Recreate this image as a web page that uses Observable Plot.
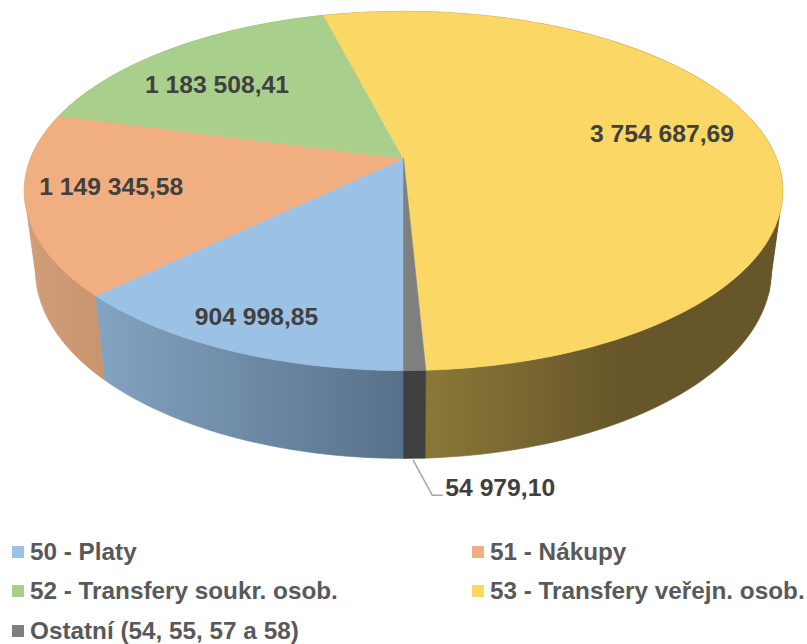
<!DOCTYPE html>
<html>
<head>
<meta charset="utf-8">
<script src="https://cdn.jsdelivr.net/npm/d3@7"></script>
<script src="https://cdn.jsdelivr.net/npm/@observablehq/plot@0.6"></script>
<style>
html,body{margin:0;padding:0;background:#fff;}
svg{display:block;}
#legend{display:grid;grid-template-columns:460px 335px;grid-auto-rows:39.5px;padding-left:12px;width:807px;box-sizing:border-box;
 font:bold 24.3px "Liberation Sans",Arial,sans-serif;color:#595959;margin-top:2px;}
#legend div{display:flex;align-items:center;white-space:nowrap;height:39.5px;}
#legend i{display:inline-block;width:12px;height:12px;margin-right:6px;flex:none;}
</style>
</head>
<body>
<div id="chart"></div>
<div id="legend"></div>
<script>
const categories = ["50 - Platy","51 - Nákupy","52 - Transfery soukr. osob.","53 - Transfery veřejn. osob.","Ostatní (54, 55, 57 a 58)"];
const values = [904998.85,1149345.58,1183508.41,3754687.69,54979.10];
const valueLabels = ["904 998,85","1 149 345,58","1 183 508,41","3 754 687,69","54 979,10"];
const topColors = ["#9bc1e5","#f1ae81","#a8d08c","#fbd766","#7f7f7f"];
const sideFills = ["url(#sideBlue)","url(#sideOrange)","#7a9160","url(#sideYellow)","#404040"];

// Layout of the projected pie (perspective view of a tilted disc)
const W = 807, H = 530;
const topRim = {cx:403, cy:158, a:373, b:173.7, k:0.1806};
const lowRim = {cx:403, cy:236, a:362, b:182, k:0.18};
const startAngle = 180;
const silhouetteAngles = [107.5, 252.5, 467.5, 612.5];
const project = (rim, deg, r = 1) => {
  const t = deg * Math.PI / 180, X = Math.sin(t), Y = Math.cos(t), w = 1 + rim.k * Y;
  return [rim.cx + r * rim.a * X / w, rim.cy - r * rim.b * Y / w];
};

const total = d3.sum(values);
let acc = startAngle;
const slices = values.map((v, i) => {
  const a0 = acc; acc += v / total * 360;
  return {i, a0, a1: acc, mid: (a0 + acc) / 2};
});
const angles = (a0, a1) => {
  const n = Math.max(2, Math.ceil((a1 - a0) / 1.5));
  return d3.range(n + 1).map(j => a0 + (a1 - a0) * j / n);
};
const topPoly = s => {
  const p = [project(topRim, s.a0, 0), ...angles(s.a0, s.a1).map(a => project(topRim, a))];
  return [...p, p[0]];
};
// A wall is split where the rim turns away, so each part keeps the disc's tangent edge
const sideParts = s => {
  const cuts = [s.a0, ...silhouetteAngles.filter(a => a > s.a0 && a < s.a1), s.a1];
  return d3.pairs(cuts).flatMap(([a0, a1], z) => {
    const as = angles(a0, a1);
    const p = [...as.map(a => project(topRim, a)), ...as.slice().reverse().map(a => project(lowRim, a))];
    return [...p, p[0]].map(q => [q[0], q[1], z]);
  });
};

const poly = (pts, fill) => Plot.line(pts, {x: d => d[0], y: d => d[1], z: d => d[2], fill, stroke: fill, strokeWidth: 0.6, curve: "linear"});

// Label anchors: fraction of rim radius along each slice's middle direction, plus a nudge
const labelRadius = [0.80, 0.77, 0.80, 0.723];
const labelNudge = [[-6.5, 5], [-1, -6], [0, 14], [-1, -6]];
const labels = [0,1,2,3].map(i => {
  const p = project(topRim, slices[i].mid, labelRadius[i]);
  return {x: p[0] + labelNudge[i][0], y: p[1] + labelNudge[i][1], t: valueLabels[i]};
});

const other = slices[4];
const lp0 = project(lowRim, other.mid);
const leader = [[lp0[0] - 1, lp0[1] + 2], [lp0[0] + 18, lp0[1] + 37], [lp0[0] + 28, lp0[1] + 37]];

// Side walls from back to front, then the top faces
const drawOrder = [2, 1, 3, 0, 4];
const marks = [
  ...drawOrder.map(i => poly(sideParts(slices[i]), sideFills[i])),
  ...slices.map(s => poly(topPoly(s), topColors[s.i])),
  Plot.line(leader, {x: d => d[0], y: d => d[1], stroke: "#a6a6a6", strokeWidth: 1.5}),
  Plot.text(labels, {x: "x", y: "y", text: "t", fill: "#404040", fontSize: 24.7, fontWeight: "bold", fontFamily: "Liberation Sans"}),
  Plot.text([valueLabels[4]], {x: () => leader[2][0] + 3, y: () => leader[2][1] - 7, text: d => d, textAnchor: "start", fill: "#404040", fontSize: 24.7, fontWeight: "bold", fontFamily: "Liberation Sans"})
];

const svg = Plot.plot({
  width: W, height: H, margin: 0,
  x: {domain: [0, W], range: [0, W], axis: null},
  y: {domain: [0, H], range: [0, H], axis: null},
  marks
});

const defs = d3.select(svg).insert("defs", ":first-child");
const grad = (id, x1, x2, c1, c2) => {
  const g = defs.append("linearGradient").attr("id", id).attr("gradientUnits", "userSpaceOnUse")
    .attr("x1", x1).attr("x2", x2).attr("y1", 0).attr("y2", 0);
  g.append("stop").attr("offset", 0).attr("stop-color", c1);
  g.append("stop").attr("offset", 1).attr("stop-color", c2);
};
grad("sideBlue", 104, 403, "#82a2c1", "#587189");
grad("sideOrange", 24, 104, "#d19e7b", "#c9946c");
grad("sideYellow", 426, 620, "#8a7838", "#665629");

document.getElementById("chart").append(svg);

const legend = d3.select("#legend");
categories.forEach((c, i) => {
  const d = legend.append("div");
  d.append("i").style("background", topColors[i]);
  d.append("span").text(c);
});
</script>
</body>
</html>
